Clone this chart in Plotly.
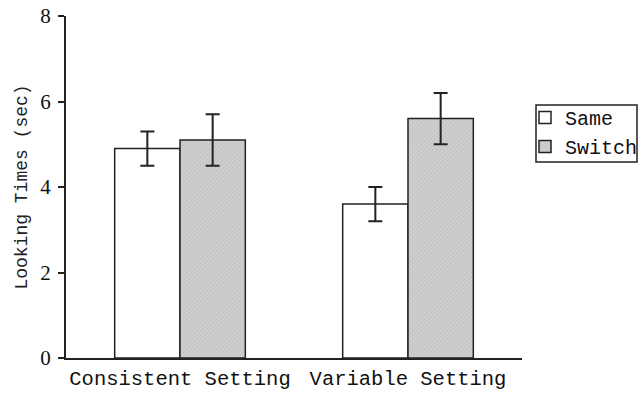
import plotly.graph_objects as go

categories = ["Consistent Setting", "Variable Setting"]
same_vals = [4.9, 3.6]
same_err = [0.4, 0.4]
switch_vals = [5.1, 5.6]
switch_err = [0.6, 0.6]
y_ticks = [0, 2, 4, 6, 8]

mono = "Liberation Mono, Courier New, monospace"
serif = "Liberation Serif, Times New Roman, serif"

fig = go.Figure()
fig.add_trace(go.Bar(
    name="Same", x=categories, y=same_vals,
    marker=dict(color="white", line=dict(color="#222222", width=1.5)),
    error_y=dict(type="data", array=same_err, color="#222222", thickness=2, width=7),
))
fig.add_trace(go.Bar(
    name="Switch", x=categories, y=switch_vals,
    marker=dict(color="#c8c8c8", line=dict(color="#222222", width=1.5),
                pattern=dict(shape="/", fgcolor="#aaaaaa", bgcolor="#d0d0d0", size=3, solidity=0.3)),
    error_y=dict(type="data", array=switch_err, color="#222222", thickness=2, width=7),
))

# legend frame (box around the legend entries)
fig.add_shape(type="rect", xref="paper", yref="paper",
              x0=1 + 14 / 456, x1=1 + 115 / 456, y0=(358 - 162) / 342, y1=(358 - 105) / 342,
              line=dict(color="#222222", width=1.5), fillcolor="rgba(0,0,0,0)")

fig.update_layout(
    width=640, height=393,
    margin=dict(l=66, r=118, t=16, b=35, autoexpand=False),
    paper_bgcolor="white", plot_bgcolor="white",
    barmode="group", bargap=0.427, bargroupgap=0,
    showlegend=True,
    legend=dict(
        x=1 + 3 / 456, y=(358 - 98) / 342, xanchor="left", yanchor="top",
        font=dict(family=mono, size=20, color="#111111"),
        borderwidth=0, bgcolor="rgba(0,0,0,0)",
        itemwidth=30, tracegroupgap=0,
    ),
    xaxis=dict(
        range=[-0.5, 1.5], showline=True, linecolor="#222222", linewidth=2,
        ticks="", tickfont=dict(family=mono, size=20.5, color="#111111"),
        showgrid=False, zeroline=False, automargin=False,
    ),
    yaxis=dict(
        range=[0, 8], tickvals=y_ticks, showline=True, linecolor="#222222", linewidth=2,
        ticks="outside", ticklen=6, tickwidth=2, tickcolor="#222222",
        ticklabelstandoff=3,
        tickfont=dict(family=serif, size=21, color="#111111"),
        showgrid=False, zeroline=False, automargin=False,
        title=dict(text="Looking Times (sec)", font=dict(family=mono, size=18, color="#222222"), standoff=8),
    ),
)

fig.write_html("out.html", config={"displayModeBar": False},
               post_script="document.body.style.margin='0';")
